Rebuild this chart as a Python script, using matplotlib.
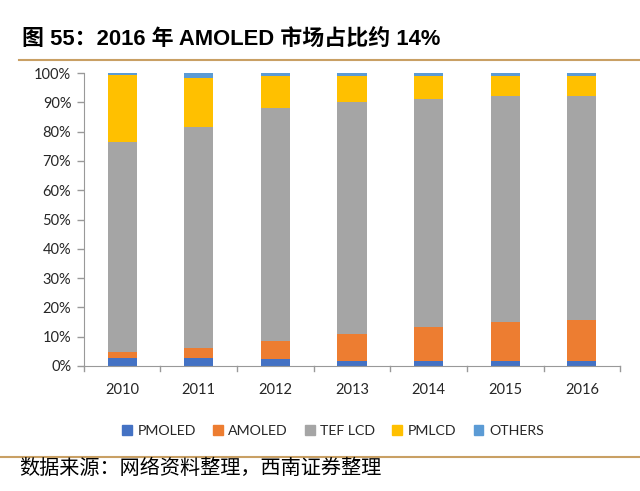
import matplotlib
matplotlib.use("Agg")
import matplotlib.pyplot as plt
from matplotlib.lines import Line2D
import numpy as np

plt.rcParams["font.family"] = ["Lato", "Noto Sans CJK SC", "DejaVu Sans"]

years = ["2010", "2011", "2012", "2013", "2014", "2015", "2016"]
pmoled = [2.6, 2.7, 2.3, 1.8, 1.8, 1.8, 1.8]
amoled = [2.2, 3.4, 6.2, 9.2, 11.6, 13.1, 14.0]
tef_lcd = [71.5, 75.4, 79.4, 79.1, 77.7, 77.3, 76.4]
pmlcd = [23.0, 16.9, 11.1, 8.9, 7.9, 6.8, 6.8]
others = [0.7, 1.6, 1.0, 1.0, 1.0, 1.0, 1.0]

series = [
    ("PMOLED", pmoled, "#4472C4"),
    ("AMOLED", amoled, "#ED7D31"),
    ("TEF LCD", tef_lcd, "#A5A5A5"),
    ("PMLCD", pmlcd, "#FFC000"),
    ("OTHERS", others, "#5B9BD5"),
]

fig = plt.figure(figsize=(6.4, 4.91), dpi=100)
ax = fig.add_axes([0.131, 0.2546, 0.838, 0.5967])

x = np.arange(len(years))
bottom = np.zeros(len(years))
for name, vals, color in series:
    vals = np.array(vals)
    ax.bar(x, vals, 0.38, bottom=bottom, color=color, label=name, zorder=2)
    bottom += vals

ax.set_xlim(-0.5, len(years) - 0.5)
ax.set_ylim(0, 100)
ax.set_yticks(np.arange(0, 101, 10))
ax.set_yticklabels([f"{v}%" for v in range(0, 101, 10)], fontsize=10.5, color="#262626")
ax.set_xticks(x)
ax.set_xticklabels(years, fontsize=10.5, color="#262626")
ax.tick_params(axis="x", length=0, pad=12)
ax.tick_params(axis="y", length=5, color="#999999", width=1, pad=4)
for xb in np.arange(-0.5, len(years), 1.0):
    ax.plot([xb, xb], [0, -1.8], color="#999999", lw=1, clip_on=False)
for s in ["top", "right"]:
    ax.spines[s].set_visible(False)
ax.spines["left"].set_color("#999999")
ax.spines["bottom"].set_color("#999999")

handles = [plt.Rectangle((0, 0), 1, 1, color=c) for _, _, c in series]
fig.legend(handles, [n for n, _, _ in series], loc="center", bbox_to_anchor=(0.52, 0.122),
           ncol=5, frameon=False, fontsize=10.2, handlelength=0.7, handleheight=0.7,
           handletextpad=0.4, columnspacing=1.2, labelcolor="#262626")

fig.text(0.034, 0.918, "图 55：2016 年 AMOLED 市场占比约 14%", fontsize=15.8,
         fontweight="bold", va="center",
         family=["Liberation Sans", "Noto Sans CJK SC", "DejaVu Sans"])
fig.add_artist(Line2D([0.03, 1.0], [0.878, 0.878], color="#C9A064", lw=1.5))
fig.add_artist(Line2D([0.0, 1.0], [0.069, 0.069], color="#C9A064", lw=1.5))
fig.text(0.03, 0.045, "数据来源：网络资料整理，西南证券整理", fontsize=14.5,
         va="center", style="italic", family=["Noto Sans CJK SC", "DejaVu Sans"])

fig.savefig("out.png", dpi=100)
